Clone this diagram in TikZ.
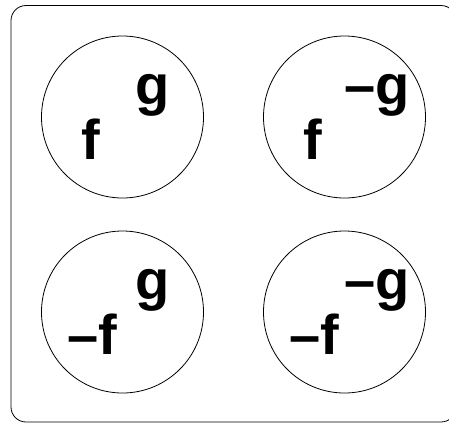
\documentclass[tikz,border=0pt]{standalone}
\usepackage{fontspec}
\setmainfont{Liberation Sans}
\usetikzlibrary{calc}

\begin{document}
\begin{tikzpicture}[
      x=1pt, y=-1pt,
      every node/.style={font=\fontsize{56}{60}\selectfont\bfseries},
      ring/.style={draw, circle, minimum size=162pt, inner sep=0pt, line width=0.8pt},
      lbl/.style={anchor=base, inner sep=0pt},
    ]
    \clip (0,0) rectangle (449,424);

    % Frame (cut at the right edge)
    \draw[line width=0.8pt, rounded corners=15pt] (11,5.5) rectangle (456,422);

    % Circles
    \node[ring] (ff) at (122.5,117) {};
    \node[ring] (fg) at (344.5,117) {};
    \node[ring] (gf) at (122.5,312) {};
    \node[ring] (gg) at (344.5,312) {};

    % Labels
    \node[lbl] (ffa) at ($(ff)+(-32,42)$) {f};
    \node[lbl] (ffb) at ($(ff)+(30,-13)$) {g};
    \node[lbl] (fga) at ($(fg)+(-32,42)$) {f};
    \node[lbl] (fgb) at ($(fg)+(33,-13)$) {–g};
    \node[lbl] (gfa) at ($(gf)+(-30,42)$) {–f};
    \node[lbl] (gfb) at ($(gf)+(30,-13)$) {g};
    \node[lbl] (gga) at ($(gg)+(-30,42)$) {–f};
    \node[lbl] (ggb) at ($(gg)+(33,-13)$) {–g};
  \end{tikzpicture}
\end{document}
